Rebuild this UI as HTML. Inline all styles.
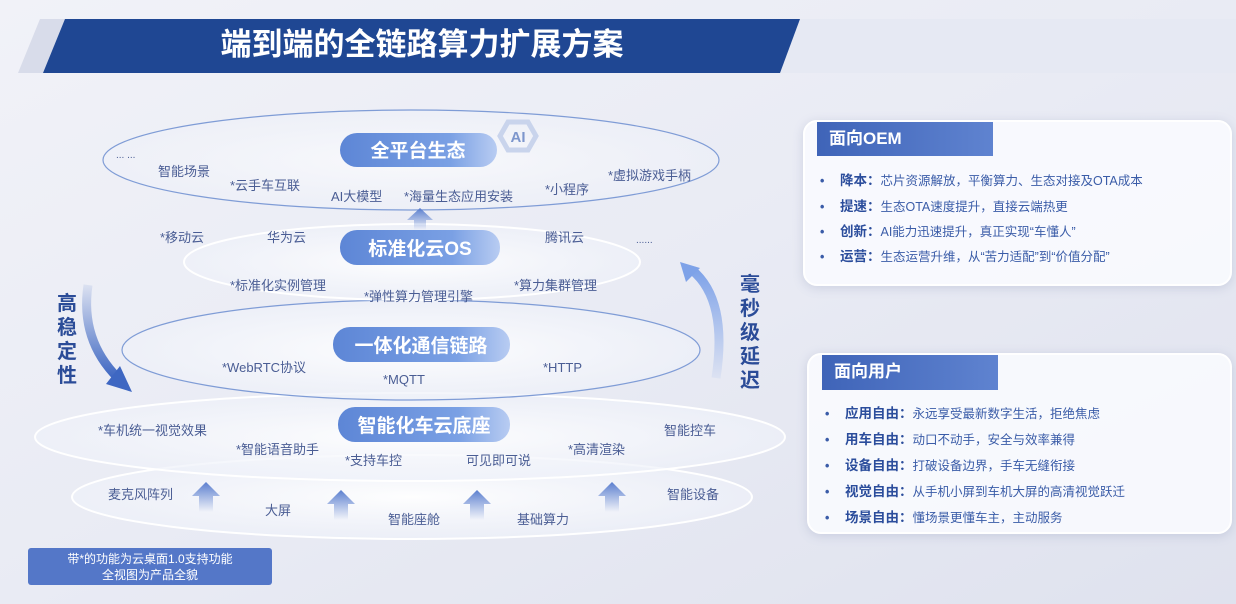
<!DOCTYPE html>
<html><head><meta charset="utf-8"><style>
body{margin:0;width:1236px;height:604px;overflow:hidden;font-family:"Liberation Sans","Noto Sans CJK SC",sans-serif;}
svg text{font-family:"Liberation Sans","Noto Sans CJK SC",sans-serif;}
.panel{position:absolute;background:rgba(250,251,255,0.85);border:2px solid #fff;border-radius:14px;box-shadow:0 2px 10px rgba(120,130,170,0.25);}
.hdr{position:absolute;background:linear-gradient(90deg,#3f64b8,#5f83d0);color:#fff;font-weight:bold;font-size:17px;line-height:34px;padding-left:12px;box-sizing:border-box;}
.it{position:absolute;font-size:12.5px;line-height:18px;color:#3a5ca8;white-space:nowrap;}
.it b{color:#2b4d9c;font-size:13.5px;}
.it .d{display:inline-block;width:20px;margin-left:-20px;font-weight:bold;}
</style></head><body>
<svg width="1236" height="604" style="position:absolute;left:0;top:0">
<defs>
<linearGradient id="bg" x1="0" y1="0" x2="1" y2="1"><stop offset="0" stop-color="#f1f2f8"/><stop offset="0.5" stop-color="#e9ebf4"/><stop offset="1" stop-color="#dfe2ee"/></linearGradient>
<linearGradient id="pill" x1="0" y1="0" x2="1" y2="0"><stop offset="0" stop-color="#5d86d6"/><stop offset="0.7" stop-color="#7aa0e4"/><stop offset="1" stop-color="#b8ccf2"/></linearGradient>
<radialGradient id="ell"><stop offset="0" stop-color="#ffffff" stop-opacity="0.95"/><stop offset="1" stop-color="#eef1f9" stop-opacity="0.7"/></radialGradient>
<linearGradient id="upa" x1="0" y1="0" x2="0" y2="1"><stop offset="0" stop-color="#5b7fcf"/><stop offset="1" stop-color="#5b7fcf" stop-opacity="0"/></linearGradient>
<linearGradient id="la" x1="0" y1="0" x2="0" y2="1"><stop offset="0" stop-color="#3e67c2" stop-opacity="0.1"/><stop offset="1" stop-color="#3e67c2"/></linearGradient>
<linearGradient id="ra" x1="0" y1="1" x2="0" y2="0"><stop offset="0" stop-color="#7ea2e8" stop-opacity="0.1"/><stop offset="1" stop-color="#7ea2e8"/></linearGradient>
</defs>
<rect width="1236" height="604" fill="url(#bg)"/>
<polygon points="18,73 40,19 820,19 800,73" fill="#d8dcea"/>
<polygon points="800,19 1236,19 1236,73 780,73" fill="#e6e9f3"/>
<polygon points="43,73 65,19 800,19 780,73" fill="#1f4793"/>
<text x="422" y="55" text-anchor="middle" fill="#fff" font-size="31" font-weight="bold">端到端的全链路算力扩展方案</text>

<ellipse cx="412" cy="497" rx="340" ry="42" fill="url(#ell)" stroke="#ffffff" stroke-width="2"/>
<ellipse cx="410" cy="437" rx="375" ry="44" fill="url(#ell)" stroke="#ffffff" stroke-width="2"/>
<ellipse cx="411" cy="350" rx="289" ry="50" fill="url(#ell)" stroke="#7f9cd6" stroke-width="1.2"/>
<ellipse cx="412" cy="262" rx="228" ry="38" fill="url(#ell)" stroke="#ffffff" stroke-width="2"/>
<ellipse cx="411" cy="160" rx="308" ry="50" fill="url(#ell)" stroke="#7f9cd6" stroke-width="1.2" fill-opacity="0.7"/>

<polygon points="508,122 528,122 536,136 528,150 508,150 500,136" fill="none" stroke="#c9d4ec" stroke-width="5"/>
<text x="518" y="142" text-anchor="middle" fill="#7d96cc" font-size="15" font-weight="bold">AI</text>

<rect x="340" y="133" width="157" height="34" rx="17" fill="url(#pill)"/>
<text x="418" y="157" text-anchor="middle" fill="#fff" font-size="19" font-weight="bold">全平台生态</text>
<polygon points="420,208 433,220 426,220 426,230 414,230 414,220 407,220" fill="url(#upa)"/>
<rect x="340" y="230" width="160" height="35" rx="17" fill="url(#pill)"/>
<text x="420" y="255" text-anchor="middle" fill="#fff" font-size="19" font-weight="bold">标准化云OS</text>
<rect x="333" y="327" width="177" height="35" rx="17" fill="url(#pill)"/>
<text x="421" y="352" text-anchor="middle" fill="#fff" font-size="19" font-weight="bold">一体化通信链路</text>
<rect x="338" y="407" width="172" height="35" rx="17" fill="url(#pill)"/>
<text x="424" y="432" text-anchor="middle" fill="#fff" font-size="19" font-weight="bold">智能化车云底座</text>

<g fill="#4a5d94" font-size="13">
<text x="116" y="158" font-size="10">... ...</text>
<text x="158" y="176">智能场景</text>
<text x="230" y="190">*云手车互联</text>
<text x="331" y="201">AI大模型</text>
<text x="404" y="201">*海量生态应用安装</text>
<text x="545" y="194">*小程序</text>
<text x="608" y="180">*虚拟游戏手柄</text>
<text x="160" y="242">*移动云</text>
<text x="267" y="242">华为云</text>
<text x="545" y="242">腾讯云</text>
<text x="636" y="243" font-size="10">......</text>
<text x="230" y="290">*标准化实例管理</text>
<text x="364" y="301">*弹性算力管理引擎</text>
<text x="514" y="290">*算力集群管理</text>
<text x="222" y="372">*WebRTC协议</text>
<text x="383" y="384">*MQTT</text>
<text x="543" y="372">*HTTP</text>
<text x="98" y="435">*车机统一视觉效果</text>
<text x="236" y="454">*智能语音助手</text>
<text x="345" y="465">*支持车控</text>
<text x="466" y="465">可见即可说</text>
<text x="568" y="454">*高清渲染</text>
<text x="664" y="435">智能控车</text>
<text x="108" y="499">麦克风阵列</text>
<text x="265" y="515">大屏</text>
<text x="388" y="524">智能座舱</text>
<text x="517" y="524">基础算力</text>
<text x="667" y="499">智能设备</text>
</g>
<g fill="url(#upa)">
<polygon points="206,482 220,496 213,496 213,512 199,512 199,496 192,496"/>
<polygon points="341,490 355,504 348,504 348,520 334,520 334,504 327,504"/>
<polygon points="477,490 491,504 484,504 484,520 470,520 470,504 463,504"/>
<polygon points="612,482 626,496 619,496 619,512 605,512 605,496 598,496"/>
</g>

<path d="M88,285 Q80,340 118,378" stroke="url(#la)" stroke-width="9" fill="none"/>
<polygon points="106,384 132,392 120,366" fill="#3e67c2"/>
<path d="M716,378 Q728,300 692,270" stroke="url(#ra)" stroke-width="9" fill="none"/>
<polygon points="680,262 700,268 686,282" fill="#7ea2e8"/>
<g fill="#2b4c98" font-size="20" font-weight="bold" text-anchor="middle">
<text x="67" y="310">高</text><text x="67" y="334">稳</text><text x="67" y="358">定</text><text x="67" y="382">性</text>
<text x="750" y="291">毫</text><text x="750" y="315">秒</text><text x="750" y="339">级</text><text x="750" y="363">延</text><text x="750" y="387">迟</text>
</g>

<rect x="28" y="548" width="244" height="37" rx="3" fill="#5477c8"/>
<text x="150" y="563" text-anchor="middle" fill="#fff" font-size="12">带*的功能为云桌面1.0支持功能</text>
<text x="150" y="579" text-anchor="middle" fill="#fff" font-size="12">全视图为产品全貌</text>
</svg>

<div class="panel" style="left:803px;top:120px;width:425px;height:162px"></div>
<div class="hdr" style="left:817px;top:122px;width:176px;height:34px">面向OEM</div>
<div class="it" style="left:840px;top:172px"><span class="d">•</span><b>降本：</b>芯片资源解放，平衡算力、生态对接及OTA成本</div>
<div class="it" style="left:840px;top:198px"><span class="d">•</span><b>提速：</b>生态OTA速度提升，直接云端热更</div>
<div class="it" style="left:840px;top:223px"><span class="d">•</span><b>创新：</b>AI能力迅速提升，真正实现“车懂人”</div>
<div class="it" style="left:840px;top:248px"><span class="d">•</span><b>运营：</b>生态运营升维，从“苦力适配”到“价值分配”</div>

<div class="panel" style="left:807px;top:353px;width:421px;height:177px"></div>
<div class="hdr" style="left:822px;top:355px;width:176px;height:35px">面向用户</div>
<div class="it" style="left:845px;top:405px"><span class="d">•</span><b>应用自由：</b>永远享受最新数字生活，拒绝焦虑</div>
<div class="it" style="left:845px;top:431px"><span class="d">•</span><b>用车自由：</b>动口不动手，安全与效率兼得</div>
<div class="it" style="left:845px;top:457px"><span class="d">•</span><b>设备自由：</b>打破设备边界，手车无缝衔接</div>
<div class="it" style="left:845px;top:483px"><span class="d">•</span><b>视觉自由：</b>从手机小屏到车机大屏的高清视觉跃迁</div>
<div class="it" style="left:845px;top:509px"><span class="d">•</span><b>场景自由：</b>懂场景更懂车主，主动服务</div>
</body></html>
